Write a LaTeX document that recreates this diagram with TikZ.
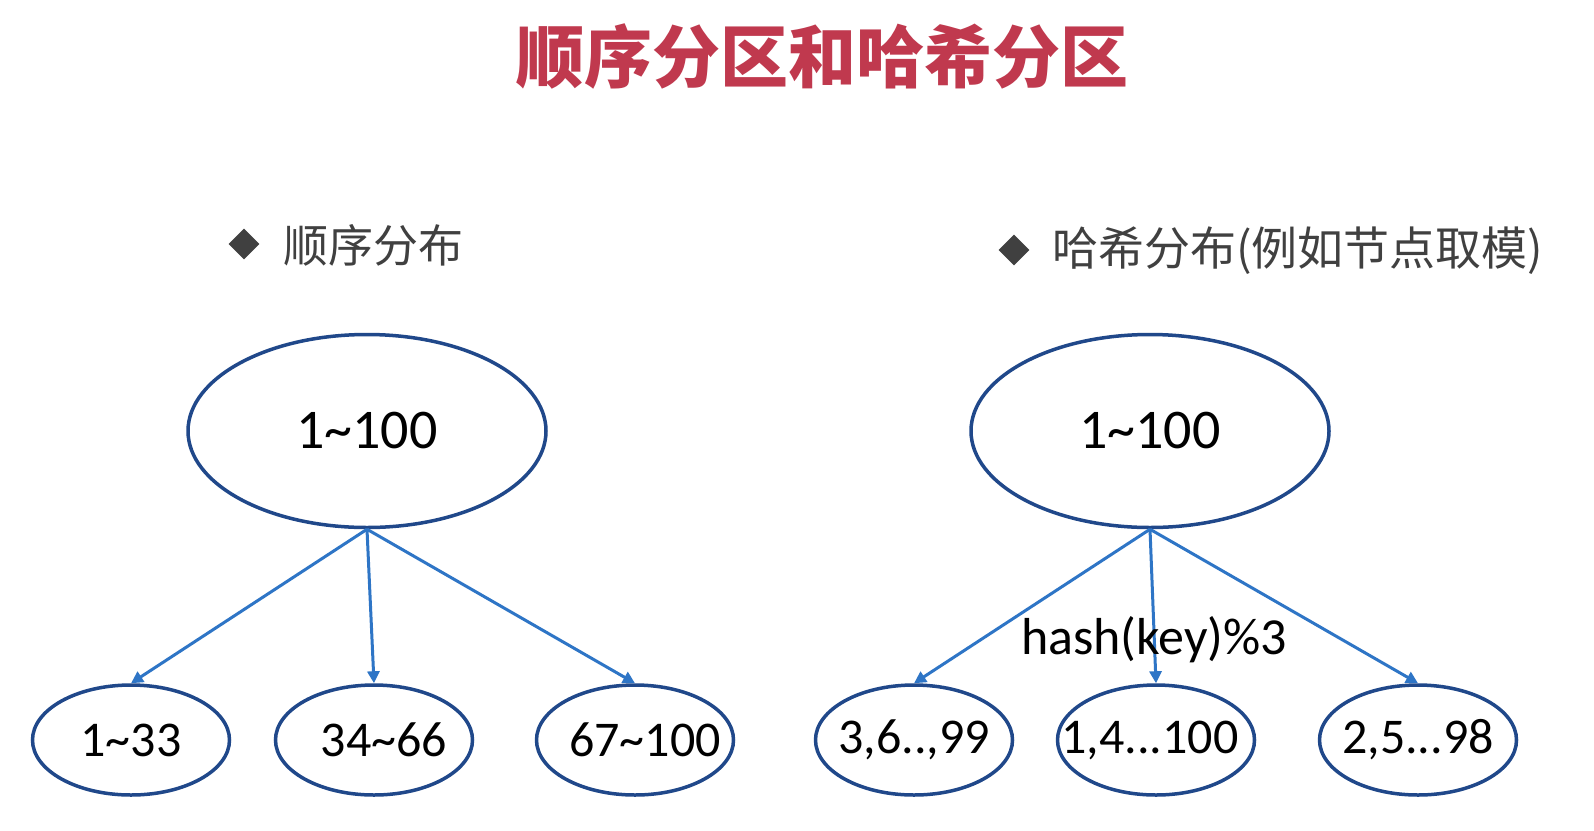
\documentclass[tikz,border=0pt]{standalone}
\usepackage{fontspec}
\setmainfont{Carlito}
\newfontfamily\cjk{Noto Sans CJK SC}
\usetikzlibrary{shapes.geometric,arrows.meta}
\definecolor{titlered}{RGB}{192,57,78}
\definecolor{bulletgray}{RGB}{64,64,64}
\definecolor{ellblue}{RGB}{32,72,138}
\definecolor{arrblue}{RGB}{46,117,198}
\tikzset{
  bigell/.style={ellipse, draw=ellblue, line width=3.5pt, minimum width=358pt, minimum height=193pt, inner sep=0pt},
  smallell/.style={ellipse, draw=ellblue, line width=3.5pt, minimum width=197pt, minimum height=110pt, inner sep=0pt},
  biglbl/.style={inner sep=0pt, font=\fontsize{56}{60}\selectfont},
  smalllbl/.style={inner sep=0pt, font=\fontsize{50}{54}\selectfont},
  arr/.style={draw=arrblue, line width=3pt, -{Triangle[length=12pt,width=12pt]}},
  bulletmark/.style={diamond, fill=bulletgray, inner sep=0pt, minimum width=31pt, minimum height=31pt},
  bullettext/.style={anchor=west, text=bulletgray, inner sep=0pt}
}
\begin{document}
\begin{tikzpicture}[x=1pt,y=-1pt]
\useasboundingbox (0,0) rectangle (1594,830);
\fill[white] (0,0) rectangle (1594,830);
% title
\node[text=titlered, font=\cjk\bfseries\fontsize{68}{72}\selectfont, inner sep=0pt] (title) at (822,56) {顺序分区和哈希分区};
% bullets
\node[bulletmark] (b1) at (244,244) {};
\node[bullettext, font=\cjk\fontsize{45}{50}\selectfont] (t1) at (283,245) {顺序分布};
\node[bulletmark] (b2) at (1014,250) {};
\node[bullettext, font=\cjk\fontsize{46}{50}\selectfont] (t2) at (1052,251) {哈希分布(例如节点取模)};
% left tree
\node[bigell] (L) at (367,431) {};
\node[biglbl] (Lt) at (L.center) {1\textasciitilde100};
\node[smallell] (L1) at (131,740) {};
\node[smalllbl] (L1t) at (L1.center) {1\textasciitilde33};
\node[smallell] (L2) at (374,740) {};
\node[smalllbl] (L2t) at ([xshift=10pt]L2.center) {34\textasciitilde66};
\node[smallell] (L3) at (635,740) {};
\node[smalllbl] (L3t) at ([xshift=10pt]L3.center) {67\textasciitilde100};
\draw[arr] (L.south) -- (L1.north);
\draw[arr] (L.south) -- (L2.north);
\draw[arr] (L.south) -- (L3.north);
% right tree
\node[bigell] (R) at (1150,431) {};
\node[biglbl] (Rt) at (R.center) {1\textasciitilde100};
\node[smallell] (R1) at (914,740) {};
\node[smalllbl] (R1t) at (R1.center) {3,6..,99};
\node[smallell] (R2) at (1156,740) {};
\node[smalllbl] (R2t) at ([xshift=-6pt]R2.center) {1,4...100};
\node[smallell] (R3) at (1418,740) {};
\node[smalllbl] (R3t) at (R3.center) {2,5...98};
\draw[arr] (R.south) -- (R1.north);
\draw[arr] (R.south) -- (R2.north);
\draw[arr] (R.south) -- (R3.north);
\node[font=\fontsize{52}{56}\selectfont, inner sep=0pt] (hash) at (1154,640) {hash(key)\%3};
\end{tikzpicture}
\end{document}
